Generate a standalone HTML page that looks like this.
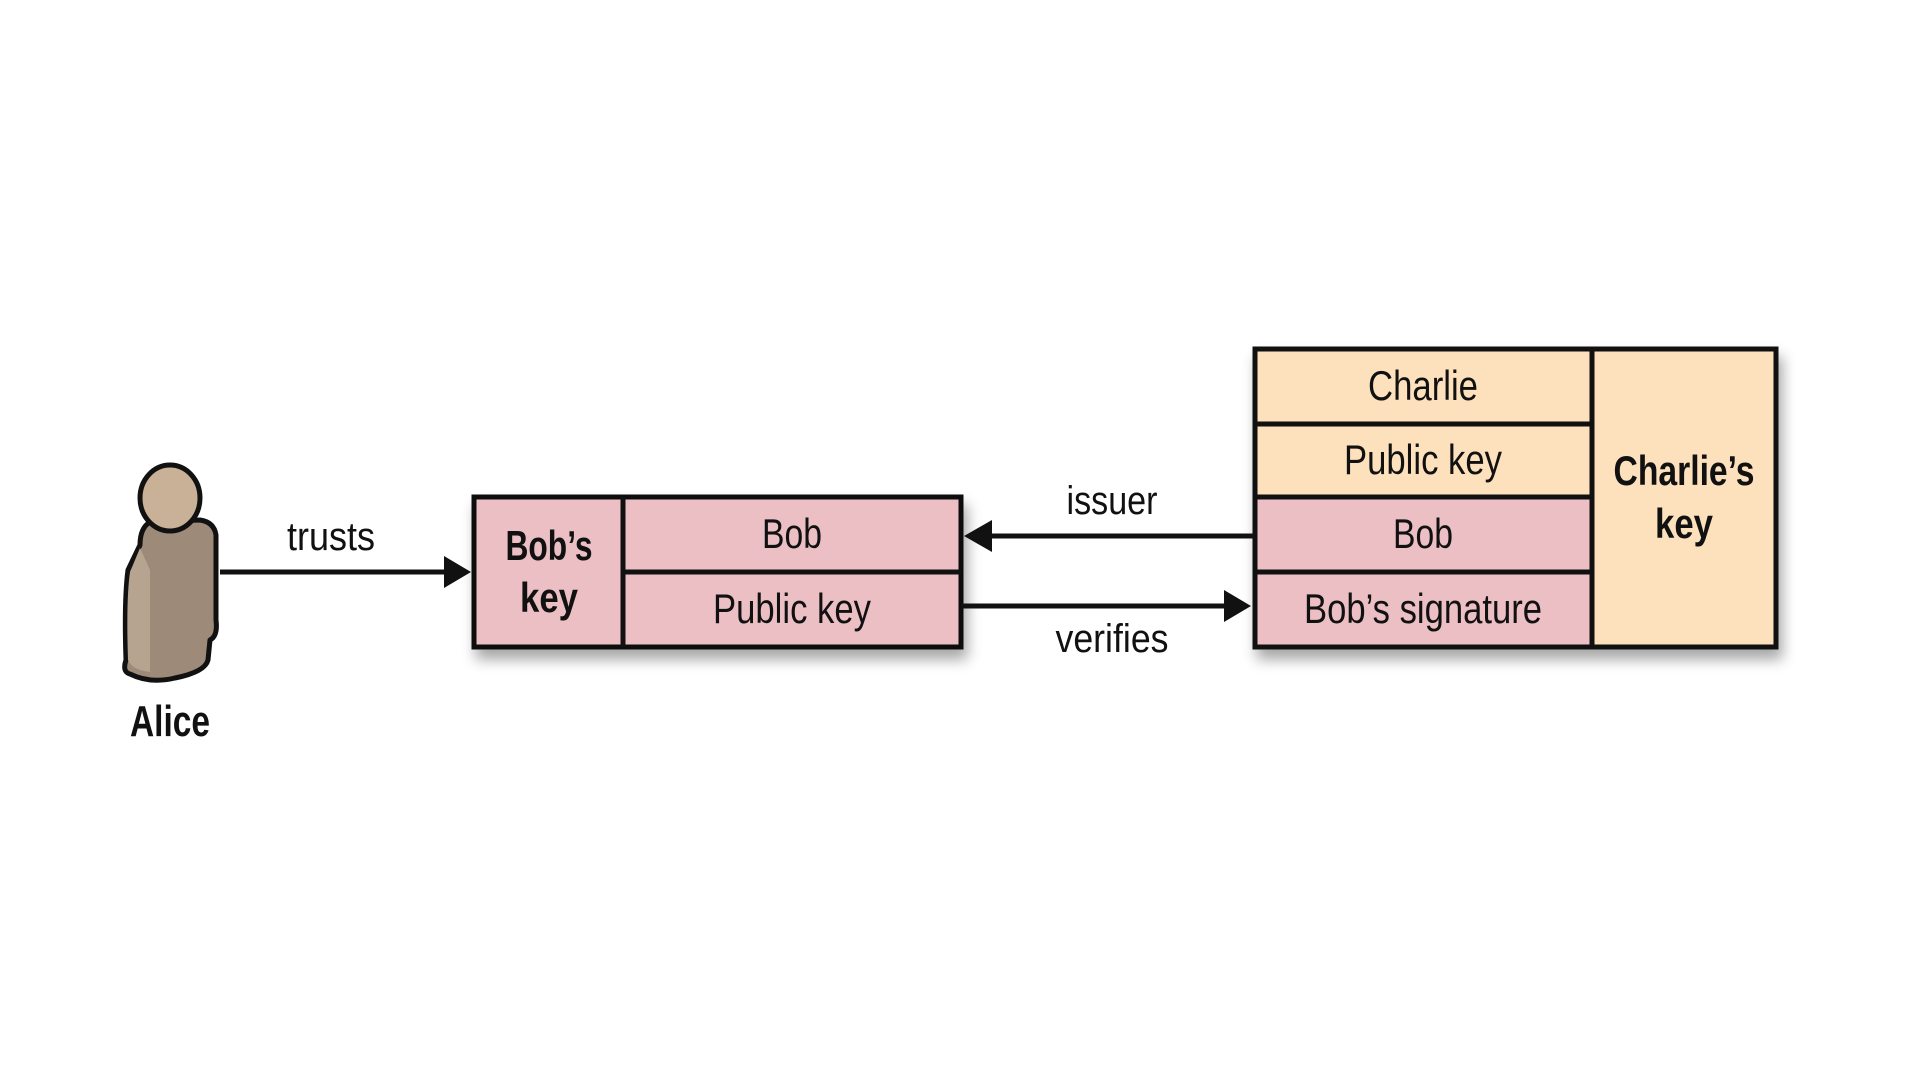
<!DOCTYPE html>
<html><head><style>
html,body{margin:0;padding:0;background:#fff;width:1920px;height:1080px;overflow:hidden}
text{font-family:"Liberation Sans Narrow","Liberation Sans",sans-serif;fill:#111}
</style></head><body>
<svg width="1920" height="1080" viewBox="0 0 1920 1080" xmlns="http://www.w3.org/2000/svg">
<defs>
<filter id="sh" x="-10%" y="-10%" width="130%" height="140%">
<feGaussianBlur in="SourceAlpha" stdDeviation="7"/>
<feOffset dx="4" dy="10"/>
<feComponentTransfer><feFuncA type="linear" slope="0.35"/></feComponentTransfer>
<feMerge><feMergeNode/><feMergeNode in="SourceGraphic"/></feMerge>
</filter>
</defs>
<!-- Alice -->
<g>
<path d="M150 522 Q140 528 140 545 L128 570 Q124 600 126 660 Q122 672 130 674 Q150 684 175 678 Q205 672 208 660 L210 640 Q218 636 216 620 L216 535 Q214 522 200 520 Z" fill="#9e8a78" stroke="#111" stroke-width="5" stroke-linejoin="round"/>
<path d="M140 548 L130 572 Q126 600 128 660 Q132 670 150 672 L150 570 Z" fill="#b6a490"/>
<ellipse cx="170" cy="498" rx="30" ry="33" fill="#c9b197" stroke="#111" stroke-width="5"/>
<text x="170" y="736" font-size="44" font-weight="bold" text-anchor="middle" textLength="80" lengthAdjust="spacingAndGlyphs">Alice</text>
</g>
<!-- trusts arrow -->
<line x1="220" y1="572" x2="448" y2="572" stroke="#111" stroke-width="5"/>
<polygon points="444,556 471,572 444,588" fill="#111"/>
<text x="331" y="550" font-size="40" text-anchor="middle" textLength="88" lengthAdjust="spacingAndGlyphs">trusts</text>
<!-- Bob box -->
<g filter="url(#sh)">
<rect x="474" y="497" width="487" height="150" fill="#ebbfc3" stroke="#111" stroke-width="5"/>
</g>
<line x1="623" y1="497" x2="623" y2="647" stroke="#111" stroke-width="5"/>
<line x1="623" y1="572" x2="961" y2="572" stroke="#111" stroke-width="5"/>
<text x="549" y="560" font-size="42" font-weight="bold" text-anchor="middle" textLength="87" lengthAdjust="spacingAndGlyphs">Bob’s</text>
<text x="549" y="612" font-size="42" font-weight="bold" text-anchor="middle" textLength="58" lengthAdjust="spacingAndGlyphs">key</text>
<text x="792" y="548" font-size="42" text-anchor="middle" textLength="60" lengthAdjust="spacingAndGlyphs">Bob</text>
<text x="792" y="623" font-size="42" text-anchor="middle" textLength="158" lengthAdjust="spacingAndGlyphs">Public key</text>
<!-- Charlie box -->
<g filter="url(#sh)">
<rect x="1255" y="349" width="521" height="298" fill="#fde0bc" stroke="#111" stroke-width="5"/>
</g>
<rect x="1255" y="497" width="337" height="150" fill="#ebbfc3"/>
<rect x="1255" y="349" width="521" height="298" fill="none" stroke="#111" stroke-width="5"/>
<line x1="1592" y1="349" x2="1592" y2="647" stroke="#111" stroke-width="5"/>
<line x1="1255" y1="424" x2="1592" y2="424" stroke="#111" stroke-width="5"/>
<line x1="1255" y1="497" x2="1592" y2="497" stroke="#111" stroke-width="5"/>
<line x1="1255" y1="572" x2="1592" y2="572" stroke="#111" stroke-width="5"/>
<text x="1423" y="400" font-size="42" text-anchor="middle" textLength="110" lengthAdjust="spacingAndGlyphs">Charlie</text>
<text x="1423" y="474" font-size="42" text-anchor="middle" textLength="158" lengthAdjust="spacingAndGlyphs">Public key</text>
<text x="1423" y="548" font-size="42" text-anchor="middle" textLength="60" lengthAdjust="spacingAndGlyphs">Bob</text>
<text x="1423" y="623" font-size="42" text-anchor="middle" textLength="238" lengthAdjust="spacingAndGlyphs">Bob’s signature</text>
<text x="1684" y="485" font-size="42" font-weight="bold" text-anchor="middle" textLength="141" lengthAdjust="spacingAndGlyphs">Charlie’s</text>
<text x="1684" y="538" font-size="42" font-weight="bold" text-anchor="middle" textLength="58" lengthAdjust="spacingAndGlyphs">key</text>
<!-- issuer arrow -->
<line x1="1255" y1="536" x2="988" y2="536" stroke="#111" stroke-width="5"/>
<polygon points="992,520 964,536 992,552" fill="#111"/>
<text x="1112" y="514" font-size="40" text-anchor="middle" textLength="91" lengthAdjust="spacingAndGlyphs">issuer</text>
<!-- verifies arrow -->
<line x1="961" y1="606" x2="1228" y2="606" stroke="#111" stroke-width="5"/>
<polygon points="1224,590 1251,606 1224,622" fill="#111"/>
<text x="1112" y="652" font-size="40" text-anchor="middle" textLength="113" lengthAdjust="spacingAndGlyphs">verifies</text>
</svg>
</body></html>
